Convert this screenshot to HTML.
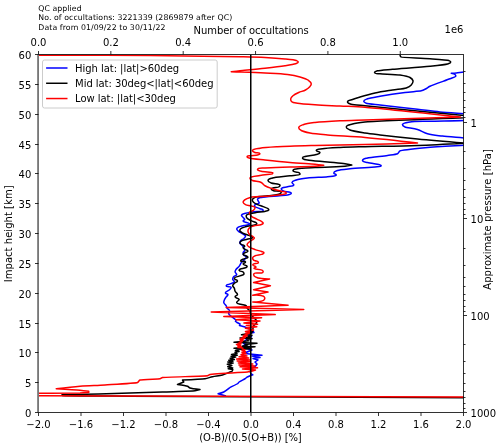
<!DOCTYPE html>
<html><head><meta charset="utf-8"><title>O-B statistics</title>
<style>
html,body{margin:0;padding:0;background:#fff;}
body{width:500px;height:448px;overflow:hidden;}
svg{display:block;font-family:"DejaVu Sans","Liberation Sans",sans-serif;fill:#000;}
.t10{font-size:10px;}
.t8{font-size:7.8px;}
.c{fill:none;stroke-width:1.5;stroke-linejoin:round;stroke-linecap:butt;}
.tk{stroke:#000;stroke-width:0.8;fill:none;}
</style></head><body>
<svg width="500" height="448" viewBox="0 0 500 448">
<rect width="500" height="448" fill="#fff"/>
<defs><clipPath id="ax"><rect x="38.5" y="54.5" width="425" height="358"/></clipPath></defs>

<text class="t8" x="38.3" y="11.2" textLength="43.3">QC applied</text>
<text class="t8" x="38.3" y="20.3" textLength="193.9">No. of occultations: 3221339 (2869879 after QC)</text>
<text class="t8" x="38.3" y="29.7" textLength="127.2">Data from 01/09/22 to 30/11/22</text>
<g clip-path="url(#ax)">
<line x1="38.0" y1="54.5" x2="38.0" y2="412.5" stroke="#808080" stroke-width="1.8"/>
<path class="c" stroke="#0000ff" d="M480.00,71.70C480.00,71.70 467.48,71.72 463.75,72.00C461.26,72.19 458.72,72.77 456.25,73.00C454.60,73.15 451.25,73.25 451.25,73.25C451.25,73.25 454.31,73.86 455.00,74.50C455.46,74.93 455.98,75.67 455.75,76.25C455.40,77.13 451.92,77.97 450.00,78.75C447.12,79.91 432.60,85.00 430.00,86.25C428.27,87.09 426.72,88.39 425.00,89.25C423.81,89.84 422.54,90.43 421.25,90.75C419.31,91.23 410.35,91.81 405.00,92.50C396.98,93.53 386.22,95.16 380.00,96.25C375.86,96.97 369.56,97.90 367.50,98.75C366.13,99.32 363.81,99.76 363.75,101.25C363.70,102.31 365.28,102.84 366.25,103.25C367.71,103.87 375.46,104.45 380.00,105.00C386.81,105.82 406.36,107.99 417.50,109.30C424.93,110.17 432.56,111.23 440.00,112.00C451.16,113.16 478.73,114.11 480.00,115.50C480.85,116.42 480.87,118.40 480.00,119.30C478.70,120.66 439.90,120.81 430.00,121.20C423.40,121.46 413.85,121.30 410.00,122.00C407.43,122.47 402.90,122.80 402.50,124.50C402.23,125.64 403.97,126.45 405.00,127.00C406.54,127.83 413.48,128.26 417.50,129.50C420.93,130.56 424.05,132.76 427.50,133.75C432.32,135.13 437.53,135.45 442.50,136.10C449.95,137.07 478.61,138.46 480.00,140.00C480.93,141.03 480.95,143.19 480.00,144.20C478.58,145.71 469.11,144.86 463.75,145.20C455.71,145.71 437.42,146.51 425.00,147.70C416.72,148.50 401.66,150.02 400.00,150.90C398.90,151.49 398.59,153.14 397.50,153.75C395.86,154.67 390.81,155.00 387.50,155.50C382.53,156.24 370.15,157.20 367.50,158.00C365.73,158.53 362.42,158.66 362.50,160.50C362.57,162.28 365.79,162.01 367.50,162.50C370.06,163.23 377.44,164.07 378.75,164.50C379.63,164.79 381.37,164.84 381.25,165.75C381.07,167.12 377.08,166.72 375.00,167.00C371.87,167.42 356.21,168.10 350.00,168.75C345.86,169.18 339.59,169.71 337.50,170.50C336.11,171.03 333.81,171.51 333.75,173.00C333.70,174.06 336.50,173.97 336.25,175.00C335.88,176.54 330.42,176.37 327.50,176.75C323.12,177.32 313.12,177.33 307.50,178.00C303.76,178.45 298.54,179.15 296.25,180.00C294.72,180.56 292.32,181.02 292.00,182.50C291.79,183.48 294.09,184.05 293.75,185.00C293.24,186.42 289.55,186.13 287.50,186.75C285.43,187.37 281.66,187.05 281.25,188.75C280.98,189.88 282.74,190.67 283.75,191.25C285.27,192.12 291.07,191.21 291.25,193.25C291.37,194.61 288.82,194.64 287.50,195.00C285.52,195.54 282.01,195.55 279.30,195.80C275.24,196.18 263.67,196.90 261.60,197.40C260.22,197.73 258.13,197.86 257.60,199.00C257.25,199.76 258.08,200.63 258.40,201.40C258.63,201.95 259.41,202.45 259.20,203.00C258.89,203.83 255.85,204.00 255.20,204.60C254.77,205.00 254.20,205.64 254.40,206.20C254.70,207.03 258.40,207.94 260.00,208.70C261.07,209.20 263.39,209.13 263.20,210.30C262.92,212.05 255.64,211.24 252.00,211.90C249.57,212.34 246.37,212.91 244.70,213.50C243.59,213.89 241.80,213.96 241.50,215.10C241.26,216.02 242.53,216.74 243.10,217.50C243.59,218.16 244.74,218.58 244.70,219.40C244.67,220.15 242.95,220.27 243.10,221.00C243.33,222.10 245.88,222.03 247.10,222.60C247.92,222.98 249.60,223.00 249.50,223.90C249.35,225.24 245.75,224.97 243.90,225.50C242.05,226.03 239.36,226.40 238.30,227.10C237.60,227.57 236.70,228.25 236.70,229.10C236.70,229.95 237.67,230.54 238.30,231.10C239.25,231.94 241.02,232.72 242.30,233.60C243.39,234.35 245.28,234.70 245.50,236.00C245.66,236.94 244.55,237.71 243.90,238.40C242.99,239.36 241.43,239.78 240.70,240.80C240.21,241.48 239.71,242.39 239.90,243.20C240.16,244.29 241.59,244.73 242.30,245.60C242.90,246.34 243.48,247.14 243.90,248.00C244.27,248.75 244.81,249.57 244.70,250.40C244.57,251.34 243.23,251.86 243.10,252.80C242.99,253.63 243.39,254.54 243.90,255.20C244.48,255.96 246.10,255.87 246.30,256.80C246.50,257.76 245.32,258.54 244.70,259.30C243.77,260.44 242.41,261.25 241.50,262.40C240.54,263.61 240.05,265.19 239.10,266.40C238.18,267.58 236.56,268.53 235.90,269.60C235.46,270.31 235.00,271.17 235.10,272.00C235.22,272.97 236.87,273.54 236.70,274.50C236.46,275.80 234.23,275.88 233.50,276.90C233.01,277.58 232.59,278.47 232.70,279.30C232.83,280.24 234.54,280.78 234.30,281.70C233.93,283.08 231.09,283.32 229.50,284.10C228.41,284.63 226.12,284.49 226.20,285.70C226.32,287.40 230.63,285.95 231.10,287.30C231.41,288.20 230.15,289.00 229.50,289.70C228.53,290.75 225.33,291.43 225.40,292.90C225.45,293.88 227.71,293.54 227.90,294.50C228.09,295.45 226.74,296.10 226.20,296.90C225.65,297.71 224.99,298.50 224.60,299.40C224.17,300.40 223.58,301.53 223.80,302.60C224.06,303.89 225.62,304.69 226.20,305.80C226.59,306.54 226.55,307.49 227.00,308.20C227.61,309.17 229.18,309.50 229.50,310.60C229.80,311.65 228.41,312.75 228.70,313.80C229.00,314.88 230.25,315.47 231.10,316.20C232.10,317.06 233.37,317.75 234.30,318.60C234.92,319.17 235.93,319.95 236.00,320.50C236.05,320.87 235.50,321.50 235.50,321.50C235.50,321.50 236.49,322.20 237.00,322.50C237.77,322.95 240.00,324.00 240.00,324.00L239.50,325.50C239.50,325.50 243.97,326.60 245.00,327.00C245.69,327.26 246.32,327.71 247.00,328.00C248.02,328.44 250.67,328.81 252.00,329.80C252.89,330.46 254.00,332.50 254.00,332.50C254.00,332.50 250.86,332.81 250.00,333.50C249.42,333.96 249.00,335.50 249.00,335.50L251.50,336.50C251.50,336.50 248.36,337.98 247.00,339.00C245.88,339.84 244.41,341.33 244.00,342.00C243.73,342.44 243.50,343.50 243.50,343.50L247.00,344.50L243.10,345.90C243.10,345.90 246.31,346.93 247.00,347.50C247.46,347.88 247.51,348.66 248.00,349.00C248.73,349.51 252.00,350.00 252.00,350.00C252.00,350.00 248.08,351.39 247.00,352.00C246.28,352.40 245.00,353.50 245.00,353.50L262.00,355.20L252.00,356.00L260.00,357.50L253.00,358.50L258.00,360.00L255.00,362.00L257.00,364.00C257.00,364.00 255.82,365.84 255.00,366.50C254.14,367.20 252.78,367.22 252.00,368.00C251.48,368.52 251.27,369.31 251.00,370.00C250.70,370.77 250.09,371.60 250.30,372.40C250.60,373.50 252.80,374.80 252.80,374.80C252.80,374.80 248.22,376.56 247.10,377.20C246.35,377.63 245.73,378.29 245.00,378.75C243.91,379.45 240.02,381.27 239.10,382.00C238.49,382.48 238.13,383.28 237.50,383.75C236.56,384.45 231.66,386.49 231.10,386.80C230.72,387.01 230.36,387.26 230.00,387.50C229.47,387.86 226.02,390.87 223.75,392.00C222.00,392.87 218.10,393.75 218.10,393.75L226.00,396.00"/>
<path class="c" stroke="#000000" d="M400.00,54.75C400.00,54.75 400.33,56.54 401.00,57.00C402.00,57.69 420.71,58.04 430.00,58.75C436.20,59.23 447.60,60.05 448.75,60.50C449.52,60.80 450.79,61.18 450.75,62.00C450.69,63.24 448.69,63.58 447.50,64.00C445.72,64.63 435.79,65.65 430.00,66.25C421.31,67.16 399.93,68.58 392.50,69.25C387.55,69.70 379.14,70.22 377.50,70.75C376.41,71.10 374.33,71.37 374.50,72.50C374.76,74.20 378.16,73.48 380.00,73.75C382.76,74.15 394.96,74.22 400.00,75.00C403.36,75.52 408.12,76.38 410.00,77.50C411.26,78.24 412.74,79.31 413.00,80.75C413.27,82.24 412.24,83.85 411.25,85.00C410.00,86.46 408.06,87.35 406.25,88.00C403.53,88.97 397.03,89.28 392.50,90.00C386.71,90.92 380.72,91.75 375.00,93.00C370.00,94.09 363.75,95.88 360.00,97.00C357.50,97.75 354.91,98.50 352.50,99.50C350.80,100.21 347.57,100.16 347.50,102.00C347.44,103.44 349.88,103.79 351.25,104.25C353.30,104.94 360.46,105.28 365.00,105.75C371.81,106.46 480.00,117.20 480.00,117.20C480.00,117.20 371.23,121.37 365.00,122.00C360.84,122.42 355.78,122.98 352.50,124.00C350.32,124.68 346.51,124.73 346.25,127.00C346.07,128.57 348.56,129.33 350.00,130.00C352.15,131.00 360.02,132.19 365.00,133.00C369.92,133.80 375.04,134.32 380.00,134.90C387.43,135.77 405.11,137.71 417.50,138.90C433.49,140.44 466.00,143.05 466.00,143.05C466.00,143.05 433.51,144.81 417.50,145.40C400.18,146.03 377.38,146.35 365.00,146.70C356.75,146.93 348.24,147.07 340.00,147.50C334.22,147.80 325.67,148.20 322.50,148.75C320.39,149.12 316.48,148.41 316.25,150.50C316.10,151.89 320.00,151.10 320.00,152.50C320.00,153.90 317.58,154.04 316.25,154.50C314.26,155.18 308.20,155.63 306.25,156.25C304.95,156.66 302.46,156.63 302.50,158.00C302.55,159.78 305.77,159.58 307.50,160.00C310.09,160.63 320.90,161.34 327.50,162.00C333.27,162.58 341.64,163.27 345.00,163.75C347.24,164.07 351.75,165.00 351.75,165.00C351.75,165.00 347.25,166.00 345.00,166.25C341.62,166.63 323.67,167.01 315.00,167.50C309.22,167.83 299.83,168.23 297.50,168.75C295.95,169.10 292.97,168.91 293.00,170.50C293.04,172.51 297.90,171.86 298.75,172.50C299.32,172.93 300.28,173.60 300.00,174.25C299.58,175.23 293.31,175.29 290.00,175.75C285.04,176.44 274.92,177.20 272.50,178.00C270.89,178.53 268.13,178.81 268.00,180.50C267.90,181.85 270.03,182.42 271.25,183.00C273.09,183.86 279.55,183.92 280.00,185.00C280.30,185.72 279.38,186.55 278.75,187.00C277.80,187.68 271.60,187.20 271.25,188.75C271.02,189.78 272.80,190.29 273.75,190.75C275.18,191.44 280.98,190.41 281.25,192.50C281.43,193.89 278.83,194.07 277.50,194.50C275.50,195.15 271.14,195.39 268.00,195.80C263.78,196.35 256.91,196.66 255.20,197.40C254.06,197.89 252.56,198.58 252.30,199.80C252.12,200.67 252.89,201.55 253.50,202.20C254.41,203.17 256.18,203.94 257.60,204.60C259.38,205.43 261.38,205.88 263.20,206.60C264.81,207.24 267.45,208.24 268.00,208.70C268.36,209.01 268.95,209.45 268.80,209.90C268.58,210.58 266.17,211.06 264.80,211.40C262.75,211.92 258.35,212.17 255.20,212.70C253.04,213.06 250.02,213.45 248.70,214.00C247.82,214.36 246.62,214.70 246.30,215.60C245.98,216.47 246.53,217.57 247.10,218.30C247.95,219.40 249.72,220.02 251.10,220.70C252.66,221.46 255.42,222.12 256.00,222.60C256.39,222.92 256.96,223.42 256.80,223.90C256.56,224.62 254.62,224.87 253.50,225.20C251.82,225.70 247.95,226.08 245.50,226.80C243.87,227.28 241.46,227.95 240.70,228.70C240.20,229.20 239.73,230.01 239.90,230.70C240.15,231.72 241.41,232.24 242.30,232.80C243.64,233.63 245.51,234.15 247.10,234.80C248.42,235.34 250.24,235.91 251.10,236.40C251.68,236.72 252.82,236.95 252.70,237.60C252.52,238.57 248.95,238.67 247.10,239.20C245.25,239.73 242.53,240.13 241.50,240.80C240.81,241.25 239.89,241.88 239.90,242.70C239.91,243.49 240.87,244.02 241.50,244.50C242.44,245.22 244.52,244.99 244.70,246.10C244.82,246.84 243.06,246.95 243.10,247.70C243.16,248.71 244.68,249.01 245.50,249.60C246.27,250.16 247.96,250.25 247.90,251.20C247.83,252.38 245.61,252.15 244.70,252.80C244.09,253.24 242.98,253.66 243.10,254.40C243.28,255.51 245.44,255.45 246.30,256.00C246.87,256.37 248.00,256.63 247.90,257.30C247.75,258.31 245.17,258.26 243.90,258.90C242.79,259.46 240.48,259.67 240.70,260.90C240.98,262.49 245.10,260.37 245.50,261.90C245.77,262.92 243.01,262.95 243.10,264.00C243.24,265.53 247.24,264.87 247.10,266.40C246.90,268.65 241.64,268.19 240.70,268.80C240.07,269.20 238.95,269.67 239.10,270.40C239.33,271.50 242.32,271.21 243.10,272.00C243.62,272.53 244.19,273.42 243.90,274.10C243.46,275.12 240.66,275.39 239.10,276.10C237.49,276.84 234.46,276.74 234.30,278.50C234.18,279.81 237.50,279.58 237.50,280.90C237.50,282.22 235.21,282.34 234.30,283.30C233.65,283.99 232.70,284.75 232.70,285.70C232.70,286.65 233.91,287.23 234.30,288.10C234.74,289.10 234.63,290.32 235.10,291.30C235.67,292.49 237.59,293.18 237.50,294.50C237.42,295.62 234.97,295.79 235.10,296.90C235.28,298.45 238.81,297.87 239.10,299.40C239.34,300.70 236.34,301.33 236.70,302.60C237.08,303.97 239.35,303.74 240.70,304.20C242.52,304.82 245.40,304.93 246.30,305.80C246.90,306.38 246.66,307.49 247.10,308.20C247.69,309.15 248.88,309.66 249.50,310.60C250.28,311.79 250.36,313.38 251.10,314.60C251.86,315.86 253.02,316.90 254.00,318.00C254.90,319.01 256.52,319.73 256.80,321.00C256.99,321.85 256.45,322.76 256.00,323.50C255.42,324.46 254.15,324.93 253.60,325.90C253.06,326.85 253.32,328.15 252.80,329.10C252.38,329.86 251.00,331.00 251.00,331.00L252.75,331.50L249.89,332.39L251.90,332.91L241.50,334.80L252.00,335.30L248.00,336.50L250.00,337.30L240.00,338.00L252.00,338.60L247.00,339.80L249.00,340.80L234.00,342.30L257.00,343.30L245.00,344.50L247.00,345.40L242.00,346.20L255.00,346.80C255.00,346.80 247.63,347.36 244.00,347.60C240.70,347.82 234.00,348.20 234.00,348.20L251.00,348.80C251.00,348.80 241.75,349.18 239.62,349.50C238.20,349.71 235.40,350.53 235.40,350.53L239.08,351.59L234.99,352.33L236.98,353.53L231.49,354.37L237.13,355.35L231.09,356.34L235.62,357.13L230.14,358.35L234.38,359.50L228.74,360.23L232.85,361.29L227.79,362.01L233.09,362.99L227.31,364.22L231.85,365.47L227.70,366.65L232.71,367.91L228.21,368.67L232.77,369.50C232.77,369.50 232.47,370.86 232.00,371.30C231.49,371.78 230.65,371.75 230.00,372.00C229.02,372.37 225.06,374.27 222.50,375.00C219.28,375.92 215.77,376.03 212.50,376.75C210.00,377.30 207.53,378.35 205.00,378.75C201.21,379.35 182.50,380.00 182.50,380.00L183.75,382.00L177.50,384.50C177.50,384.50 186.10,385.67 187.50,386.25C188.43,386.63 189.06,387.63 190.00,388.00C191.40,388.56 200.00,389.50 200.00,389.50C200.00,389.50 196.68,390.51 195.00,390.75C192.47,391.11 173.23,391.61 162.50,392.00C151.78,392.39 140.73,392.79 130.00,393.10C113.91,393.56 62.00,394.70 62.00,394.70C62.00,394.70 62.21,395.43 62.50,395.60C62.94,395.86 107.72,396.05 130.00,396.20C163.41,396.43 480.00,397.90 480.00,397.90"/>
<path class="c" stroke="#ff0000" d="M38.50,55.20C38.50,55.20 113.21,55.30 150.00,55.60C179.70,55.84 227.62,56.49 240.00,56.75C248.25,56.93 256.76,57.07 265.00,57.50C271.61,57.85 279.41,58.42 285.00,59.00C288.73,59.39 295.10,60.03 296.25,60.50C297.01,60.81 298.28,61.18 298.25,62.00C298.21,63.07 296.50,63.35 295.50,63.75C294.00,64.34 288.48,65.20 285.00,65.75C279.77,66.57 271.61,67.51 265.00,68.25C256.76,69.18 244.33,70.29 240.00,70.75C237.11,71.06 231.25,71.75 231.25,71.75C231.25,71.75 237.11,71.90 240.00,72.00C244.33,72.15 256.76,72.56 265.00,73.00C272.43,73.40 281.24,73.67 287.50,74.50C291.67,75.05 295.95,75.85 300.00,77.00C302.71,77.77 305.98,78.60 308.00,80.00C309.34,80.94 311.07,82.12 311.25,83.75C311.38,84.96 310.29,86.08 309.50,87.00C308.42,88.25 306.95,89.21 305.50,90.00C303.41,91.14 300.90,91.50 298.75,92.50C296.77,93.42 294.39,94.52 293.00,95.75C292.07,96.57 290.95,97.53 290.75,98.75C290.58,99.78 290.99,101.04 291.75,101.75C292.89,102.82 295.57,102.92 297.50,103.25C300.40,103.75 309.22,104.36 315.00,104.75C323.24,105.31 331.75,105.59 340.00,106.00C348.25,106.41 356.76,106.62 365.00,107.25C377.35,108.19 460.50,117.00 460.50,117.00C460.50,117.00 377.37,119.62 365.00,120.00C356.75,120.25 348.24,120.34 340.00,120.75C331.74,121.16 320.61,121.81 315.00,122.50C311.26,122.96 306.45,123.49 303.75,124.50C301.95,125.17 299.07,125.60 298.75,127.50C298.53,128.77 300.17,129.80 301.25,130.50C302.87,131.55 307.05,132.42 310.00,133.00C314.42,133.88 321.71,134.48 327.50,135.00C336.18,135.79 352.64,136.44 365.00,137.50C382.36,138.99 417.50,143.00 417.50,143.00C417.50,143.00 382.33,144.08 365.00,144.50C348.50,144.90 331.50,145.06 315.00,145.50C302.62,145.83 286.18,146.23 277.50,146.75C271.71,147.09 263.81,147.52 260.00,148.25C257.46,148.73 252.80,148.94 252.50,150.50C252.30,151.54 254.05,152.03 255.00,152.50C256.42,153.20 259.85,152.37 260.00,153.75C260.10,154.67 258.39,154.74 257.50,155.00C256.17,155.38 251.53,155.42 250.00,155.75C248.98,155.97 247.07,155.71 247.00,156.75C246.92,157.85 248.94,157.93 250.00,158.25C251.59,158.72 260.05,159.46 265.00,160.00C272.43,160.81 281.74,161.80 290.00,162.50C298.24,163.20 310.66,163.85 315.00,164.25C317.89,164.52 323.75,165.25 323.75,165.25C323.75,165.25 317.90,166.04 315.00,166.25C310.65,166.56 298.25,166.71 290.00,167.00C281.75,167.29 268.76,167.55 265.00,168.00C262.49,168.30 257.74,167.47 257.50,169.50C257.34,170.86 259.94,170.88 261.25,171.25C263.22,171.80 272.09,172.04 272.50,172.50C272.78,172.81 272.77,173.44 272.50,173.75C272.09,174.22 264.09,174.71 260.00,175.50C256.66,176.15 250.47,176.31 250.00,178.00C249.69,179.12 251.48,179.94 252.50,180.50C254.03,181.35 259.06,181.39 261.25,182.50C262.71,183.24 263.60,184.90 265.00,185.75C267.10,187.03 269.98,187.89 272.50,188.75C275.34,189.72 278.75,190.46 281.25,191.25C282.92,191.78 286.21,191.25 286.25,193.00C286.28,194.33 283.79,194.18 282.50,194.50C280.56,194.98 270.78,195.73 265.00,196.25C260.15,196.68 253.23,196.68 250.30,197.40C248.35,197.88 245.80,198.89 244.70,199.80C243.97,200.41 243.01,201.25 243.10,202.20C243.21,203.31 244.52,204.06 245.50,204.60C246.97,205.42 249.29,205.32 251.10,205.90C252.43,206.32 254.53,206.19 255.00,207.50C255.35,208.49 254.22,209.54 253.50,210.30C252.44,211.41 249.93,211.22 249.50,212.70C249.17,213.83 250.29,215.05 251.10,215.90C252.32,217.18 254.89,218.09 256.80,219.10C258.36,219.93 260.69,220.85 261.60,221.50C262.21,221.94 263.27,222.36 263.20,223.10C263.11,224.05 261.68,224.35 260.80,224.70C259.48,225.23 255.59,225.33 253.50,226.00C252.11,226.45 250.54,226.88 249.50,227.90C248.66,228.73 247.91,229.92 247.90,231.10C247.89,232.31 248.69,233.50 249.50,234.40C250.33,235.33 251.78,235.69 252.70,236.40C253.31,236.87 254.42,237.23 254.40,238.00C254.37,239.03 252.81,239.37 252.00,240.00C250.94,240.83 249.63,241.43 248.70,242.40C248.04,243.09 247.01,243.85 247.10,244.80C247.21,245.91 248.57,246.58 249.50,247.20C250.89,248.14 253.28,248.91 255.20,249.60C257.27,250.34 260.35,250.98 261.60,251.50C262.43,251.84 263.96,251.90 264.00,252.80C264.04,253.75 262.48,254.03 261.60,254.40C260.28,254.95 256.62,255.06 255.20,255.70C254.26,256.13 253.01,256.61 252.70,257.60C252.45,258.40 252.95,259.38 253.50,260.00C253.91,260.46 254.64,260.53 255.20,260.80C256.04,261.21 258.43,261.22 258.40,262.40C258.35,264.17 253.04,262.83 252.80,264.80C252.64,266.11 256.04,266.02 256.00,267.20C255.97,267.99 253.90,267.72 254.00,268.50C254.15,269.67 263.25,268.40 263.20,271.60C263.15,274.91 253.57,271.19 253.60,274.50C253.65,279.46 269.60,279.00 269.60,279.00L253.60,282.50L270.40,285.70L253.60,289.70L268.00,292.10L252.80,295.30C252.80,295.30 264.61,294.04 264.80,298.10C264.99,302.27 252.80,302.10 252.80,302.10L288.10,305.30L226.20,307.40L303.75,309.50L211.25,312.00L275.20,314.60L223.80,316.50L261.60,317.80L235.90,319.80L260.00,321.00L243.90,323.00L257.60,324.30L246.30,325.50L256.80,326.70L245.50,328.30L253.60,329.90L245.50,331.50L250.01,332.00L246.13,332.85L249.15,333.44L245.04,334.12L247.01,334.94L243.51,335.45L247.13,336.12L243.20,336.61L245.25,337.40L241.13,338.29L243.81,338.79L240.09,339.51L243.02,340.16L240.49,340.83L242.37,341.41L239.14,342.11L241.00,342.69L238.03,343.38L241.04,343.88L236.49,344.60L240.53,345.17L237.88,346.02L241.37,346.65L237.79,347.44L242.79,348.10L242.30,349.00L245.18,349.90L241.93,350.77L245.45,351.77L242.00,352.82L246.11,353.84L240.99,354.72L246.99,355.91L239.13,356.84L248.69,358.08L236.69,359.09L250.37,359.95L237.17,360.91L250.32,361.80L238.36,362.98L252.78,364.06L238.99,365.06L255.00,365.93L240.14,366.85L257.50,367.87L242.50,368.96L255.49,369.92C255.49,369.92 250.48,371.36 249.50,371.60C248.85,371.76 248.17,371.91 247.50,372.00C246.50,372.13 211.34,374.14 210.00,374.50C209.11,374.74 208.39,375.52 207.50,375.75C206.16,376.09 163.84,377.16 162.50,377.50C161.61,377.73 160.89,378.51 160.00,378.75C158.66,379.11 141.60,379.28 140.00,380.00C138.94,380.48 138.56,382.01 137.50,382.50C135.91,383.23 115.74,384.32 105.00,385.00C96.76,385.52 88.24,385.61 80.00,386.25C72.14,386.86 56.25,388.75 56.25,388.75C56.25,388.75 75.66,389.81 80.00,390.20C82.90,390.46 88.75,391.25 88.75,391.25L88.75,392.50C88.75,392.50 82.89,392.91 80.00,393.00C75.66,393.13 20.00,393.20 20.00,393.20L20.00,395.70L480.00,397.00"/>
<line x1="250.75" y1="54.5" x2="250.75" y2="412.5" stroke="#000" stroke-width="1.5"/>
</g>
<rect class="tk" x="38.5" y="54.5" width="425.0" height="358.0"/>
<line x1="38.0" y1="54.5" x2="38.0" y2="412.5" stroke="#808080" stroke-width="1.8"/>
<line class="tk" x1="38.50" y1="412.5" x2="38.50" y2="416.0"/>
<text class="t10" x="38.50" y="427.6" text-anchor="middle">−2.0</text>
<line class="tk" x1="81.00" y1="412.5" x2="81.00" y2="416.0"/>
<text class="t10" x="81.00" y="427.6" text-anchor="middle">−1.6</text>
<line class="tk" x1="123.50" y1="412.5" x2="123.50" y2="416.0"/>
<text class="t10" x="123.50" y="427.6" text-anchor="middle">−1.2</text>
<line class="tk" x1="166.00" y1="412.5" x2="166.00" y2="416.0"/>
<text class="t10" x="166.00" y="427.6" text-anchor="middle">−0.8</text>
<line class="tk" x1="208.50" y1="412.5" x2="208.50" y2="416.0"/>
<text class="t10" x="208.50" y="427.6" text-anchor="middle">−0.4</text>
<line class="tk" x1="251.00" y1="412.5" x2="251.00" y2="416.0"/>
<text class="t10" x="251.00" y="427.6" text-anchor="middle">0.0</text>
<line class="tk" x1="293.50" y1="412.5" x2="293.50" y2="416.0"/>
<text class="t10" x="293.50" y="427.6" text-anchor="middle">0.4</text>
<line class="tk" x1="336.00" y1="412.5" x2="336.00" y2="416.0"/>
<text class="t10" x="336.00" y="427.6" text-anchor="middle">0.8</text>
<line class="tk" x1="378.50" y1="412.5" x2="378.50" y2="416.0"/>
<text class="t10" x="378.50" y="427.6" text-anchor="middle">1.2</text>
<line class="tk" x1="421.00" y1="412.5" x2="421.00" y2="416.0"/>
<text class="t10" x="421.00" y="427.6" text-anchor="middle">1.6</text>
<line class="tk" x1="463.50" y1="412.5" x2="463.50" y2="416.0"/>
<text class="t10" x="463.50" y="427.6" text-anchor="middle">2.0</text>
<line class="tk" x1="35.0" y1="412.50" x2="38.5" y2="412.50"/>
<text class="t10" x="31.3" y="417.10" text-anchor="end">0</text>
<line class="tk" x1="35.0" y1="382.50" x2="38.5" y2="382.50"/>
<text class="t10" x="31.3" y="387.10" text-anchor="end">5</text>
<line class="tk" x1="35.0" y1="352.50" x2="38.5" y2="352.50"/>
<text class="t10" x="31.3" y="357.10" text-anchor="end">10</text>
<line class="tk" x1="35.0" y1="323.50" x2="38.5" y2="323.50"/>
<text class="t10" x="31.3" y="328.10" text-anchor="end">15</text>
<line class="tk" x1="35.0" y1="293.50" x2="38.5" y2="293.50"/>
<text class="t10" x="31.3" y="298.10" text-anchor="end">20</text>
<line class="tk" x1="35.0" y1="263.50" x2="38.5" y2="263.50"/>
<text class="t10" x="31.3" y="268.10" text-anchor="end">25</text>
<line class="tk" x1="35.0" y1="233.50" x2="38.5" y2="233.50"/>
<text class="t10" x="31.3" y="238.10" text-anchor="end">30</text>
<line class="tk" x1="35.0" y1="203.50" x2="38.5" y2="203.50"/>
<text class="t10" x="31.3" y="208.10" text-anchor="end">35</text>
<line class="tk" x1="35.0" y1="173.50" x2="38.5" y2="173.50"/>
<text class="t10" x="31.3" y="178.10" text-anchor="end">40</text>
<line class="tk" x1="35.0" y1="144.50" x2="38.5" y2="144.50"/>
<text class="t10" x="31.3" y="149.10" text-anchor="end">45</text>
<line class="tk" x1="35.0" y1="114.50" x2="38.5" y2="114.50"/>
<text class="t10" x="31.3" y="119.10" text-anchor="end">50</text>
<line class="tk" x1="35.0" y1="84.50" x2="38.5" y2="84.50"/>
<text class="t10" x="31.3" y="89.10" text-anchor="end">55</text>
<line class="tk" x1="35.0" y1="54.50" x2="38.5" y2="54.50"/>
<text class="t10" x="31.3" y="59.10" text-anchor="end">60</text>
<line class="tk" x1="38.50" y1="54.5" x2="38.50" y2="51.0"/>
<text class="t10" x="38.50" y="46.3" text-anchor="middle">0.0</text>
<line class="tk" x1="110.85" y1="54.5" x2="110.85" y2="51.0"/>
<text class="t10" x="110.85" y="46.3" text-anchor="middle">0.2</text>
<line class="tk" x1="183.20" y1="54.5" x2="183.20" y2="51.0"/>
<text class="t10" x="183.20" y="46.3" text-anchor="middle">0.4</text>
<line class="tk" x1="255.55" y1="54.5" x2="255.55" y2="51.0"/>
<text class="t10" x="255.55" y="46.3" text-anchor="middle">0.6</text>
<line class="tk" x1="327.90" y1="54.5" x2="327.90" y2="51.0"/>
<text class="t10" x="327.90" y="46.3" text-anchor="middle">0.8</text>
<line class="tk" x1="400.25" y1="54.5" x2="400.25" y2="51.0"/>
<text class="t10" x="400.25" y="46.3" text-anchor="middle">1.0</text>
<line class="tk" x1="463.5" y1="122.50" x2="467.0" y2="122.50"/>
<text class="t10" x="470.6" y="127.10">1</text>
<line class="tk" x1="463.5" y1="218.50" x2="467.0" y2="218.50"/>
<text class="t10" x="470.6" y="223.10">10</text>
<line class="tk" x1="463.5" y1="315.50" x2="467.0" y2="315.50"/>
<text class="t10" x="470.6" y="320.10">100</text>
<line class="tk" x1="463.5" y1="412.50" x2="467.0" y2="412.50"/>
<text class="t10" x="470.6" y="417.10">1000</text>
<line class="tk" stroke-width="0.7" x1="463.5" y1="71.50" x2="465.5" y2="71.50"/>
<line class="tk" stroke-width="0.7" x1="463.5" y1="83.50" x2="465.5" y2="83.50"/>
<line class="tk" stroke-width="0.7" x1="463.5" y1="92.50" x2="465.5" y2="92.50"/>
<line class="tk" stroke-width="0.7" x1="463.5" y1="100.50" x2="465.5" y2="100.50"/>
<line class="tk" stroke-width="0.7" x1="463.5" y1="107.50" x2="465.5" y2="107.50"/>
<line class="tk" stroke-width="0.7" x1="463.5" y1="112.50" x2="465.5" y2="112.50"/>
<line class="tk" stroke-width="0.7" x1="463.5" y1="117.50" x2="465.5" y2="117.50"/>
<line class="tk" stroke-width="0.7" x1="463.5" y1="151.50" x2="465.5" y2="151.50"/>
<line class="tk" stroke-width="0.7" x1="463.5" y1="168.50" x2="465.5" y2="168.50"/>
<line class="tk" stroke-width="0.7" x1="463.5" y1="180.50" x2="465.5" y2="180.50"/>
<line class="tk" stroke-width="0.7" x1="463.5" y1="189.50" x2="465.5" y2="189.50"/>
<line class="tk" stroke-width="0.7" x1="463.5" y1="197.50" x2="465.5" y2="197.50"/>
<line class="tk" stroke-width="0.7" x1="463.5" y1="203.50" x2="465.5" y2="203.50"/>
<line class="tk" stroke-width="0.7" x1="463.5" y1="209.50" x2="465.5" y2="209.50"/>
<line class="tk" stroke-width="0.7" x1="463.5" y1="214.50" x2="465.5" y2="214.50"/>
<line class="tk" stroke-width="0.7" x1="463.5" y1="248.50" x2="465.5" y2="248.50"/>
<line class="tk" stroke-width="0.7" x1="463.5" y1="265.50" x2="465.5" y2="265.50"/>
<line class="tk" stroke-width="0.7" x1="463.5" y1="277.50" x2="465.5" y2="277.50"/>
<line class="tk" stroke-width="0.7" x1="463.5" y1="286.50" x2="465.5" y2="286.50"/>
<line class="tk" stroke-width="0.7" x1="463.5" y1="294.50" x2="465.5" y2="294.50"/>
<line class="tk" stroke-width="0.7" x1="463.5" y1="300.50" x2="465.5" y2="300.50"/>
<line class="tk" stroke-width="0.7" x1="463.5" y1="306.50" x2="465.5" y2="306.50"/>
<line class="tk" stroke-width="0.7" x1="463.5" y1="311.50" x2="465.5" y2="311.50"/>
<line class="tk" stroke-width="0.7" x1="463.5" y1="344.50" x2="465.5" y2="344.50"/>
<line class="tk" stroke-width="0.7" x1="463.5" y1="361.50" x2="465.5" y2="361.50"/>
<line class="tk" stroke-width="0.7" x1="463.5" y1="373.50" x2="465.5" y2="373.50"/>
<line class="tk" stroke-width="0.7" x1="463.5" y1="383.50" x2="465.5" y2="383.50"/>
<line class="tk" stroke-width="0.7" x1="463.5" y1="391.50" x2="465.5" y2="391.50"/>
<line class="tk" stroke-width="0.7" x1="463.5" y1="397.50" x2="465.5" y2="397.50"/>
<line class="tk" stroke-width="0.7" x1="463.5" y1="403.50" x2="465.5" y2="403.50"/>
<line class="tk" stroke-width="0.7" x1="463.5" y1="408.50" x2="465.5" y2="408.50"/>
<text class="t10" x="250.5" y="441.3" text-anchor="middle" textLength="102.5">(O-B)/(0.5(O+B)) [%]</text>
<text class="t10" x="251.1" y="33.8" text-anchor="middle" textLength="115">Number of occultations</text>
<text class="t10" x="463.5" y="33.2" text-anchor="end">1e6</text>
<text class="t10" transform="translate(12.4,233.85) rotate(-90)" text-anchor="middle" textLength="96.9">Impact height [km]</text>
<text class="t10" transform="translate(491.3,219.45) rotate(-90)" text-anchor="middle" textLength="140.5">Approximate pressure [hPa]</text>
<rect x="42.5" y="60" width="174.7" height="48" rx="2" ry="2" fill="#fff" fill-opacity="0.8" stroke="#ccc" stroke-width="1"/>
<line x1="46.1" y1="68.00" x2="67.5" y2="68.00" stroke="#0000ff" stroke-width="1.5"/>
<text class="t10" x="75.1" y="71.90" textLength="104.0">High lat: |lat|&gt;60deg</text>
<line x1="46.1" y1="83.27" x2="67.5" y2="83.27" stroke="#000" stroke-width="1.5"/>
<text class="t10" x="75.1" y="87.17" textLength="138.4">Mid lat: 30deg&lt;|lat|&lt;60deg</text>
<line x1="46.1" y1="98.54" x2="67.5" y2="98.54" stroke="#ff0000" stroke-width="1.5"/>
<text class="t10" x="75.1" y="102.44" textLength="100.75">Low lat: |lat|&lt;30deg</text>
</svg></body></html>
